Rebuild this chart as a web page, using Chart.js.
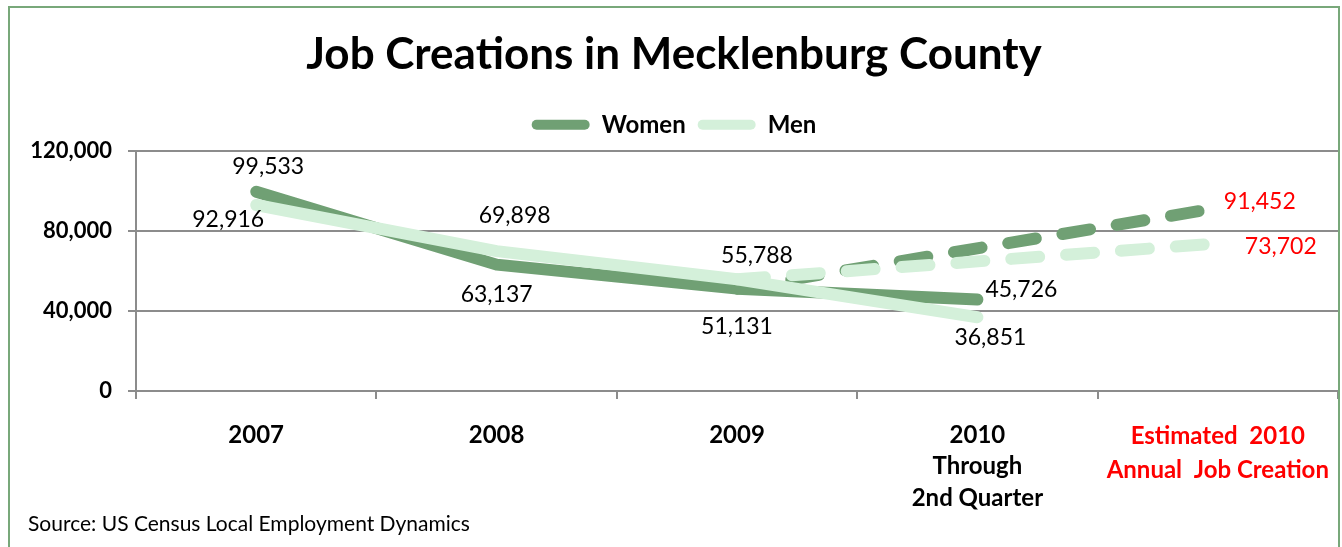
<!DOCTYPE html>
<html>
<head>
<meta charset="utf-8">
<title>Job Creations in Mecklenburg County</title>
<script src="https://cdn.jsdelivr.net/npm/chart.js@4.4.1/dist/chart.umd.min.js"></script>
<style>
  html, body { margin: 0; padding: 0; background: #fff; overflow: hidden; }
  #wrap {
    position: absolute; left: 8px; top: 6px;
    width: 1328px; height: 541px;
    border: 2px solid #78a87a; border-bottom: none;
  }
  canvas { display: block; }
</style>
</head>
<body>
<div id="wrap"><canvas id="jobsChart" width="1328" height="541"></canvas></div>
<script>
const categories = [
  '2007',
  '2008',
  '2009',
  ['2010', 'Through', '2nd Quarter'],
  ['Estimated  2010', 'Annual  Job Creation']
];
const women = [99533, 63137, 51131, 45726, null];
const men = [92916, 69898, 55788, 36851, null];
const womenEstimate = [null, null, 51131, null, 91452];
const menEstimate = [null, null, 55788, null, 73702];
const yTicks = [0, 40000, 80000, 120000];

const DARK = '#70a074';
const LIGHT = '#d4f0da';
const RED = '#ff0000';
const FONT = 'Lato, "Open Sans", sans-serif';

// where each value label sits relative to its point (px)
const womenLabelPos = [[12, -25], [0, 30], [0, 38], [44, -10], null];
const menLabelPos = [[-28, 15], [18, -36], [20, -24], [13, 20], null];
const womenEstLabelPos = [null, null, null, null, [42, -6]];
const menEstLabelPos = [null, null, null, null, [63, 3]];

const valueLabels = {
  id: 'valueLabels',
  afterDatasetsDraw(chart) {
    const ctx = chart.ctx;
    ctx.save();
    ctx.font = '23px ' + FONT;
    ctx.textAlign = 'center';
    ctx.textBaseline = 'middle';
    chart.data.datasets.forEach((ds, i) => {
      const meta = chart.getDatasetMeta(i);
      ds.data.forEach((v, j) => {
        const pos = ds.labelPos[j];
        if (v == null || !pos) return;
        const pt = meta.data[j];
        ctx.fillStyle = ds.labelColor;
        ctx.fillText(v.toLocaleString('en-US'), pt.x + pos[0], pt.y + pos[1]);
      });
    });
    ctx.restore();
  }
};

const sourceNote = {
  id: 'sourceNote',
  afterDraw(chart) {
    const ctx = chart.ctx;
    ctx.save();
    ctx.font = '21px ' + FONT;
    ctx.fillStyle = '#000';
    ctx.textAlign = 'left';
    ctx.textBaseline = 'middle';
    ctx.fillText('Source: US Census Local Employment Dynamics', 18, 516);
    ctx.restore();
  }
};

// a little more room between the legend and the plot
const legendGap = {
  id: 'legendGap',
  beforeInit(chart) {
    const legend = chart.legend;
    if (!legend) return;
    const fit = legend.fit.bind(legend);
    legend.fit = function () {
      fit();
      this.height += 4;
    };
  }
};

function lineSet(label, data, color, dashed, labelPos, labelColor, order) {
  return {
    label: label,
    data: data,
    borderColor: color,
    backgroundColor: color,
    borderWidth: 12,
    borderCapStyle: 'round',
    borderJoinStyle: 'round',
    borderDash: dashed ? [28, 27] : [],
    pointRadius: 0,
    pointHoverRadius: 0,
    tension: 0,
    spanGaps: dashed,
    inLegend: !dashed,
    labelPos: labelPos,
    labelColor: labelColor,
    order: order
  };
}

new Chart(document.getElementById('jobsChart'), {
  type: 'line',
  data: {
    labels: categories,
    datasets: [
      lineSet('Women', women, DARK, false, womenLabelPos, '#000', 3),
      lineSet('Women estimate', womenEstimate, DARK, true, womenEstLabelPos, RED, 2),
      lineSet('Men', men, LIGHT, false, menLabelPos, '#000', 1),
      lineSet('Men estimate', menEstimate, LIGHT, true, menEstLabelPos, RED, 0)
    ]
  },
  options: {
    responsive: false,
    animation: false,
    layout: { padding: { left: 0, right: 0, top: 0, bottom: 0 } },
    plugins: {
      title: {
        display: true,
        text: 'Job Creations in Mecklenburg County',
        color: '#000',
        font: { family: FONT, size: 44, weight: 'bold' },
        padding: { top: 20, bottom: 20 }
      },
      legend: {
        display: true,
        position: 'top',
        labels: {
          color: '#000',
          font: { family: FONT, size: 24, weight: 'bold' },
          boxWidth: 58,
          boxHeight: 10,
          padding: 12,
          generateLabels(chart) {
            return chart.data.datasets
              .map((ds, i) => ({
                text: ds.label,
                fillStyle: ds.borderColor,
                strokeStyle: ds.borderColor,
                lineWidth: 0,
                borderRadius: 5,
                hidden: false,
                datasetIndex: i,
                fontColor: '#000',
                keep: ds.inLegend
              }))
              .filter((it) => it.keep);
          },
          useBorderRadius: true,
          borderRadius: 5
        }
      },
      tooltip: { enabled: false }
    },
    scales: {
      x: {
        type: 'category',
        offset: true,
        afterFit(scale) {
          scale.height = 158;
          scale.paddingLeft = 0;
          scale.paddingRight = 0;
        },
        grid: {
          offset: true,
          drawOnChartArea: false,
          drawTicks: true,
          tickLength: 8,
          color: '#8c8c8c',
          lineWidth: 2
        },
        border: { display: true, color: '#8c8c8c', width: 2 },
        ticks: {
          autoSkip: false,
          maxRotation: 0,
          padding: 20,
          font: (c) => ({
            family: FONT,
            size: 24,
            weight: 'bold',
            lineHeight: c.index === 4 ? 1.42 : 1.32
          }),
          color: (c) => (c.index === 4 ? RED : '#000')
        }
      },
      y: {
        min: yTicks[0],
        max: yTicks[yTicks.length - 1],
        afterFit(scale) { scale.width = 126; },
        afterBuildTicks(scale) { scale.ticks = yTicks.map((v) => ({ value: v })); },
        grid: {
          color: '#8c8c8c',
          lineWidth: 2,
          drawTicks: true,
          tickLength: 8
        },
        border: { display: true, color: '#8c8c8c', width: 2 },
        ticks: {
          padding: 16,
          color: '#000',
          font: { family: FONT, size: 22, weight: 'bold' },
          callback: (v) => Number(v).toLocaleString('en-US')
        }
      }
    }
  },
  plugins: [legendGap, valueLabels, sourceNote]
});
</script>
</body>
</html>
